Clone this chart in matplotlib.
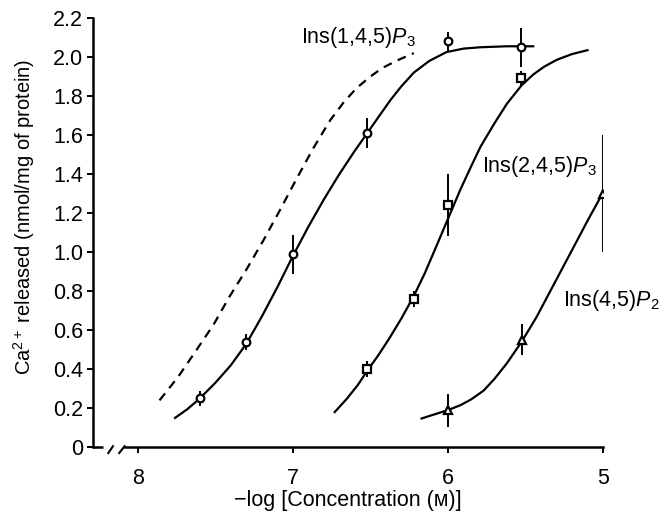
import matplotlib
matplotlib.use("Agg")
import matplotlib.pyplot as plt

plt.rcParams['font.family'] = ['Liberation Sans', 'DejaVu Sans']
plt.rcParams['mathtext.fontset'] = 'custom'
plt.rcParams['mathtext.rm'] = 'Liberation Sans'
plt.rcParams['mathtext.it'] = 'Liberation Sans:italic'

# measured points (-log conc, Ca2+ released, error)
x_145 = [7.6, 7.3, 7.0, 6.52, 6.0, 5.53]
y_145 = [0.25, 0.54, 0.99, 1.61, 2.08, 2.05]
e_145 = [0.04, 0.04, 0.10, 0.075, 0.05, 0.10]

x_245 = [6.52, 6.22, 6.0, 5.53]
y_245 = [0.40, 0.76, 1.24, 1.89]
e_245 = [0.04, 0.04, 0.16, 0.04]

x_45 = [6.0, 5.52, 5.0]
y_45 = [0.19, 0.55, 1.30]
e_45 = [0.085, 0.08, 0.30]

# fitted curves
cx_145 = [7.76, 7.68, 7.60, 7.50, 7.40, 7.30, 7.20, 7.10, 7.00, 6.90, 6.80, 6.70, 6.60,
          6.52, 6.45, 6.37, 6.30, 6.22, 6.12, 6.01, 5.90, 5.79, 5.62, 5.45]
cy_145 = [0.15, 0.195, 0.25, 0.33, 0.42, 0.53, 0.67, 0.82, 0.98, 1.13, 1.27, 1.40, 1.52,
          1.61, 1.69, 1.78, 1.85, 1.92, 1.98, 2.025, 2.043, 2.05, 2.055, 2.055]

cx_dash = [7.86, 7.74, 7.62, 7.51, 7.41, 7.30, 7.19, 7.08, 6.98, 6.87, 6.76, 6.67, 6.59,
           6.50, 6.42, 6.32, 6.22]
cy_dash = [0.24, 0.36, 0.50, 0.63, 0.77, 0.91, 1.06, 1.22, 1.37, 1.53, 1.675, 1.77, 1.84,
           1.90, 1.945, 1.985, 2.02]

cx_245 = [6.73, 6.65, 6.58, 6.525, 6.45, 6.38, 6.30, 6.22, 6.15, 6.08, 6.00, 5.92, 5.85,
          5.79, 5.70, 5.62, 5.525, 5.45, 5.38, 5.30, 5.20, 5.10]
cy_245 = [0.18, 0.25, 0.32, 0.386, 0.47, 0.555, 0.66, 0.775, 0.89, 1.02, 1.17, 1.32, 1.44,
          1.54, 1.66, 1.76, 1.855, 1.91, 1.95, 1.985, 2.015, 2.035]

cx_45 = [6.17, 6.08, 6.00, 5.92, 5.85, 5.77, 5.70, 5.62, 5.525, 5.43, 5.34, 5.26, 5.17,
         5.09, 5.01]
cy_45 = [0.147, 0.17, 0.19, 0.215, 0.245, 0.29, 0.35, 0.43, 0.54, 0.665, 0.80, 0.92,
         1.055, 1.175, 1.29]

yticks = [0, 0.2, 0.4, 0.6, 0.8, 1.0, 1.2, 1.4, 1.6, 1.8, 2.0, 2.2]
ytick_labels = ['0', '0.2', '0.4', '0.6', '0.8', '1.0', '1.2', '1.4', '1.6', '1.8', '2.0', '2.2']
xticks = [8, 7, 6, 5]

fig = plt.figure(figsize=(6.63, 5.14), dpi=100)
ax = fig.add_axes([0.140, 0.130, 0.7695, 0.835])

ax.plot(cx_dash, cy_dash, color='black', lw=1.6, ls=(0, (4, 3)))
ax.plot(cx_145, cy_145, color='black', lw=1.6)
ax.plot(cx_245, cy_245, color='black', lw=1.6)
ax.plot(cx_45, cy_45, color='black', lw=1.6)

kw = dict(ls='none', color='black', ecolor='black', elinewidth=1.4, capsize=0,
          mfc='white', mec='black', mew=1.6, ms=5.5, zorder=5)
ax.errorbar(x_145, y_145, yerr=e_145, marker='o', **kw)
ax.errorbar(x_245, y_245, yerr=e_245, marker='s', **kw)
ax.errorbar(x_45, y_45, yerr=e_45, marker='^', **kw)

ax.text(6.945, 2.10, r'Ins(1,4,5)$\mathit{P}_3$', fontsize=15.5, va='center', ha='left')
ax.text(5.78, 1.44, r'Ins(2,4,5)$\mathit{P}_3$', fontsize=15.5, va='center', ha='left')
ax.text(5.26, 0.75, r'Ins(4,5)$\mathit{P}_2$', fontsize=15.5, va='center', ha='left')

ax.set_xlim(8.29, 5)
ax.set_ylim(0, 2.2)
ax.set_xticks(xticks)
ax.set_yticks(yticks)
ax.set_yticklabels(ytick_labels)
ax.tick_params(direction='out', length=4, width=1.4, labelsize=15.5)
ax.tick_params(axis='x', pad=11)
ax.tick_params(axis='y', pad=3)

for s in ['top', 'right']:
    ax.spines[s].set_visible(False)
ax.spines['left'].set_linewidth(1.8)
ax.spines['bottom'].set_linewidth(1.8)
ax.spines['bottom'].set_bounds(8.085, 5)

# broken x axis near the origin
ax.plot([8.29, 8.226], [0, 0], color='black', lw=1.8, clip_on=False, solid_capstyle='butt')
ax.plot([8.19, 8.16], [-0.03, 0.005], color='black', lw=1.5, clip_on=False)
ax.plot([8.12, 8.085], [-0.03, 0.005], color='black', lw=1.5, clip_on=False)

ax.set_ylabel('Ca$^{2+}$ released (nmol/mg of protein)', fontsize=14.5)
ax.yaxis.set_label_coords(-0.110, 0.536)
ax.set_xlabel('\u2212log [Concentration (\u1d0d)]', fontsize=15.5, labelpad=1)

fig.savefig('out.png', dpi=100)
